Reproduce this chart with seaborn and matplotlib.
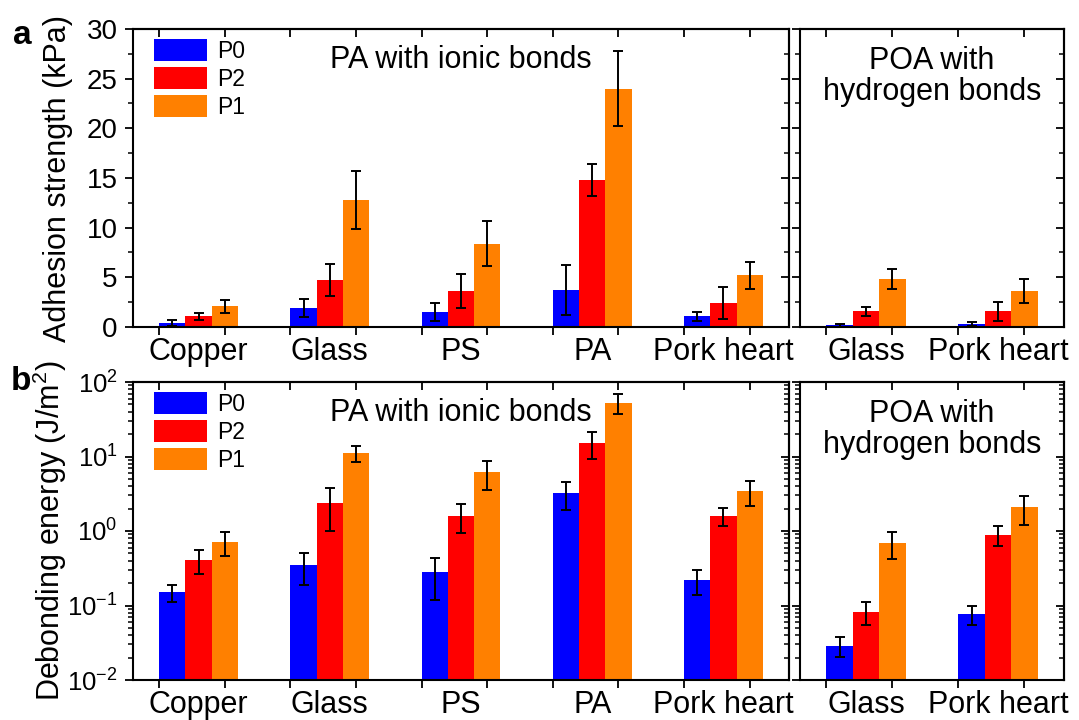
import numpy as np
import pandas as pd
import matplotlib
matplotlib.use('Agg')
import matplotlib.pyplot as plt
from matplotlib.ticker import MultipleLocator, AutoMinorLocator, LogLocator, NullFormatter
import seaborn as sns

# categories / series
substrates_ionic = ['Copper', 'Glass', 'PS', 'PA', 'Pork heart']
substrates_hbond = ['Glass', 'Pork heart']
samples = ['P0', 'P2', 'P1']
colors = ['#0000FF', '#FF0000', '#FF8000']

# adhesion strength (kPa), PA with ionic bonds
adh_ionic_p0 = [0.4, 1.9, 1.5, 3.75, 1.1]
adh_ionic_p2 = [1.1, 4.7, 3.6, 14.8, 2.4]
adh_ionic_p1 = [2.1, 12.8, 8.4, 24.0, 5.2]
adh_ionic_p0_err = [0.3, 0.9, 0.9, 2.5, 0.45]
adh_ionic_p2_err = [0.35, 1.6, 1.7, 1.6, 1.6]
adh_ionic_p1_err = [0.65, 2.9, 2.3, 3.8, 1.35]

# adhesion strength (kPa), POA with hydrogen bonds
adh_hb_p0 = [0.2, 0.27]
adh_hb_p2 = [1.6, 1.6]
adh_hb_p1 = [4.8, 3.6]
adh_hb_p0_err = [0.15, 0.2]
adh_hb_p2_err = [0.45, 0.95]
adh_hb_p1_err = [1.0, 1.2]

# debonding energy (J/m2), PA with ionic bonds
deb_ionic_p0 = [0.15, 0.35, 0.28, 3.2, 0.22]
deb_ionic_p2 = [0.41, 2.4, 1.6, 15.3, 1.6]
deb_ionic_p1 = [0.71, 11.1, 6.2, 53.0, 3.4]
deb_ionic_p0_err = [0.04, 0.16, 0.16, 1.3, 0.08]
deb_ionic_p2_err = [0.145, 1.4, 0.67, 6.0, 0.45]
deb_ionic_p1_err = [0.25, 2.6, 2.6, 16.0, 1.25]

# debonding energy (J/m2), POA with hydrogen bonds
deb_hb_p0 = [0.029, 0.076]
deb_hb_p2 = [0.082, 0.89]
deb_hb_p1 = [0.70, 2.07]
deb_hb_p0_err = [0.0085, 0.022]
deb_hb_p2_err = [0.028, 0.26]
deb_hb_p1_err = [0.28, 0.88]

sns.set_style('ticks')
plt.rcParams['font.family'] = ['Liberation Sans', 'DejaVu Sans']
plt.rcParams['mathtext.fontset'] = 'custom'
plt.rcParams['mathtext.rm'] = 'Liberation Sans'
plt.rcParams['mathtext.it'] = 'Liberation Sans:italic'
plt.rcParams['mathtext.bf'] = 'Liberation Sans:bold'
for k in ('text.color', 'axes.labelcolor', 'xtick.color', 'ytick.color', 'axes.edgecolor'):
    plt.rcParams[k] = 'black'

LW = 1.5


def make_df(subs, vals, errs):
    rows = []
    for s, v, e in zip(samples, vals, errs):
        for sub, vv, ee in zip(subs, v, e):
            rows.append({'substrate': sub, 'sample': s, 'value': vv, 'err': ee})
    return pd.DataFrame(rows)


def draw(ax, df, subs, log=False):
    if log:
        ax.set_yscale('log')
    sns.barplot(data=df, x='substrate', y='value', hue='sample', order=subs,
                hue_order=samples, palette=colors, saturation=1, width=0.6,
                errorbar=None, linewidth=0, legend=False, ax=ax)
    for cont, s in zip(ax.containers, samples):
        d = df[df['sample'] == s].set_index('substrate').loc[subs]
        xs = [p.get_x() + p.get_width() / 2 for p in cont.patches]
        ax.errorbar(xs, d['value'], yerr=d['err'], fmt='none', ecolor='black',
                    elinewidth=1.4, capsize=3.5, capthick=1.4, zorder=3)

    n = len(subs)
    ticks = np.sort(np.concatenate([np.arange(n) - 0.3, np.arange(n) + 0.2]))
    ax.set_xlim(-0.5, n - 0.5)
    ax.set_xticks(ticks)
    ax.set_xticklabels([])
    ax.set_xticks(range(n), subs, minor=True)
    ax.tick_params(axis='x', which='major', direction='out', length=6, width=1.3)
    ax.tick_params(axis='x', which='minor', length=0, pad=7, labelsize=22)
    ax.set_xlabel('')
    ax.set_ylabel('')

    top = ax.secondary_xaxis('top')
    top.set_xticks(ticks)
    top.tick_params(direction='in', length=6, width=1.3, labeltop=False)

    right = ax.secondary_yaxis('right')
    if log:
        ax.set_ylim(1e-2, 1e2)
        for a in (ax, right):
            a.yaxis.set_major_locator(LogLocator(base=10, numticks=10))
            a.yaxis.set_minor_locator(LogLocator(base=10, subs=np.arange(2, 10), numticks=10))
            a.yaxis.set_minor_formatter(NullFormatter())
    else:
        ax.set_ylim(0, 30)
        for a in (ax, right):
            a.yaxis.set_major_locator(MultipleLocator(5))
            a.yaxis.set_minor_locator(AutoMinorLocator(2))
    ax.tick_params(axis='y', which='major', direction='out', length=6, width=1.3,
                   labelsize=18.5 if log else 20, pad=5)
    ax.tick_params(axis='y', which='minor', direction='out', length=3.5, width=1.1)
    right.tick_params(which='major', direction='in', length=6, width=1.3, labelright=False)
    right.tick_params(which='minor', direction='in', length=3.5, width=1.1, labelright=False)

    for a in (ax, top, right):
        for sp in a.spines.values():
            sp.set_linewidth(LW)
            sp.set_color('black')


fig = plt.figure(figsize=(10.79, 7.2), dpi=100)
W, H = 1079, 720
ax_a1 = fig.add_axes([133 / W, 1 - 327 / H, 656 / W, 298 / H])
ax_a2 = fig.add_axes([800 / W, 1 - 327 / H, 264 / W, 298 / H])
ax_b1 = fig.add_axes([133 / W, 1 - 680 / H, 656 / W, 298 / H])
ax_b2 = fig.add_axes([800 / W, 1 - 680 / H, 264 / W, 298 / H])

draw(ax_a1, make_df(substrates_ionic, [adh_ionic_p0, adh_ionic_p2, adh_ionic_p1],
                    [adh_ionic_p0_err, adh_ionic_p2_err, adh_ionic_p1_err]), substrates_ionic)
draw(ax_a2, make_df(substrates_hbond, [adh_hb_p0, adh_hb_p2, adh_hb_p1],
                    [adh_hb_p0_err, adh_hb_p2_err, adh_hb_p1_err]), substrates_hbond)
draw(ax_b1, make_df(substrates_ionic, [deb_ionic_p0, deb_ionic_p2, deb_ionic_p1],
                    [deb_ionic_p0_err, deb_ionic_p2_err, deb_ionic_p1_err]), substrates_ionic, log=True)
draw(ax_b2, make_df(substrates_hbond, [deb_hb_p0, deb_hb_p2, deb_hb_p1],
                    [deb_hb_p0_err, deb_hb_p2_err, deb_hb_p1_err]), substrates_hbond, log=True)

for a in (ax_a2, ax_b2):
    a.tick_params(axis='y', which='both', labelleft=False)

ax_a1.set_ylabel('Adhesion strength (kPa)', fontsize=22)
ax_b1.set_ylabel('Debonding energy (J/m$^2$)', fontsize=22)
ax_a1.yaxis.set_label_coords(-0.092, 0.5)
ax_b1.yaxis.set_label_coords(-0.097, 0.5)
for a in (ax_a1, ax_b1):
    a.legend(a.containers, samples, loc='upper left', bbox_to_anchor=(0.032, 0.965),
             frameon=False, fontsize=16.5, handlelength=2.3, handleheight=1.1,
             handletextpad=0.45, labelspacing=0.17, borderaxespad=0, borderpad=0)
    a.text(0.5, 0.895, 'PA with ionic bonds', transform=a.transAxes,
           ha='center', va='center', fontsize=22)
for a in (ax_a2, ax_b2):
    a.text(0.5, 0.842, 'POA with\nhydrogen bonds', transform=a.transAxes,
           ha='center', va='center', fontsize=22, linespacing=1.05)

fig.text(22 / W, 1 - 35 / H, 'a', fontsize=24, fontweight='bold', ha='center', va='center')
fig.text(21 / W, 1 - 381 / H, 'b', fontsize=24, fontweight='bold', ha='center', va='center')

fig.savefig('out.png', dpi=100)
